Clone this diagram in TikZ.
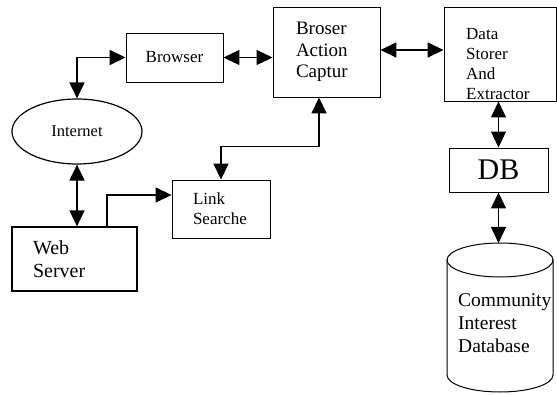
\documentclass[tikz,border=0pt]{standalone}
\usepackage{fontspec}
\setmainfont{Liberation Serif}
\usetikzlibrary{arrows.meta,shapes.geometric}
\tikzset{
  box/.style={draw, line width=0.9pt, rectangle, inner sep=0pt},
  lbox/.style={box, align=left, inner ysep=0pt},
  tip/.tip={Triangle[length=16pt,width=15pt]},
  thick2/.style={line width=1.8pt, {tip}-{tip}},
  thin2/.style={line width=1pt, {tip}-{tip}},
  txt/.style={inner sep=0pt, align=left, anchor=west}
}
\begin{document}
\begin{tikzpicture}[x=1pt,y=-1pt]
\useasboundingbox (0,0) rectangle (557,395);
% boxes
\node[box, minimum width=97pt, minimum height=49pt, font=\fontsize{17}{20}\selectfont] (browser) at (174.5,57.5) {Browser};
\node[draw, line width=1.2pt, ellipse, minimum width=130pt, minimum height=65pt, inner sep=0pt, font=\fontsize{16.5}{19}\selectfont] (inet) at (77,131.5) {Internet};
\node[lbox, minimum width=107pt, minimum height=90pt, inner xsep=23pt, text width=61pt, font=\fontsize{19}{21.5}\selectfont] (broser) at (326.5,52) {Broser\\Action\\Captur};
\node[box, minimum width=112pt, minimum height=94pt] (data) at (500,54) {};
\node[txt, text width=90pt, font=\fontsize{17}{20}\selectfont] (datatxt) at (466,64) {Data\\Storer\\And\\Extractor};
\node[box, minimum width=99pt, minimum height=44pt, font=\fontsize{30}{32}\selectfont] (db) at (498.5,170) {\raisebox{-5pt}{DB}};
\node[lbox, line width=1.3pt, minimum width=125pt, minimum height=64pt, inner xsep=21pt, text width=83pt, font=\fontsize{20}{23}\selectfont] (ws) at (74.5,259) {\raisebox{-4pt}{\parbox{83pt}{Web\\Server}}};
\node[lbox, minimum width=98pt, minimum height=58pt, inner xsep=21pt, text width=56pt, font=\fontsize{17}{20}\selectfont] (link) at (221,209) {Link\\Searche};
% cylinder
\draw[line width=1pt] (500,260) ellipse [x radius=53, y radius=17];
\draw[line width=1pt] (447,260) -- (447,375) arc[start angle=180, end angle=0, x radius=53, y radius=17] -- (553,260);
\coordinate (cyltop) at (498.5,243);
\node[txt, text width=95pt, font=\fontsize{19.5}{23}\selectfont] (cdb) at (458,323) {Community\\Interest\\Database};
% connectors
\draw[thick2] (inet.north) |- (browser.west);
\draw[thin2] (browser.east) -- (browser.east -| broser.west);
\draw[thick2] ([yshift=2pt]broser.east) -- ([yshift=2pt]broser.east -| data.west);
\draw[thin2] (db.north) -- (db.north |- data.south);
\draw[thin2] (db.south) -- (cyltop);
\draw[thick2] (inet.south) -- (inet.south |- ws.north);
\draw[line width=1.5pt, -{tip}] ([xshift=32.5pt]ws.north) |- ([yshift=14pt]link.west);
\draw[line width=1.6pt, {tip}-{tip}] (link.north) -- ++(0,-33) -| ([xshift=-7.5pt]broser.south);
\end{tikzpicture}
\end{document}
